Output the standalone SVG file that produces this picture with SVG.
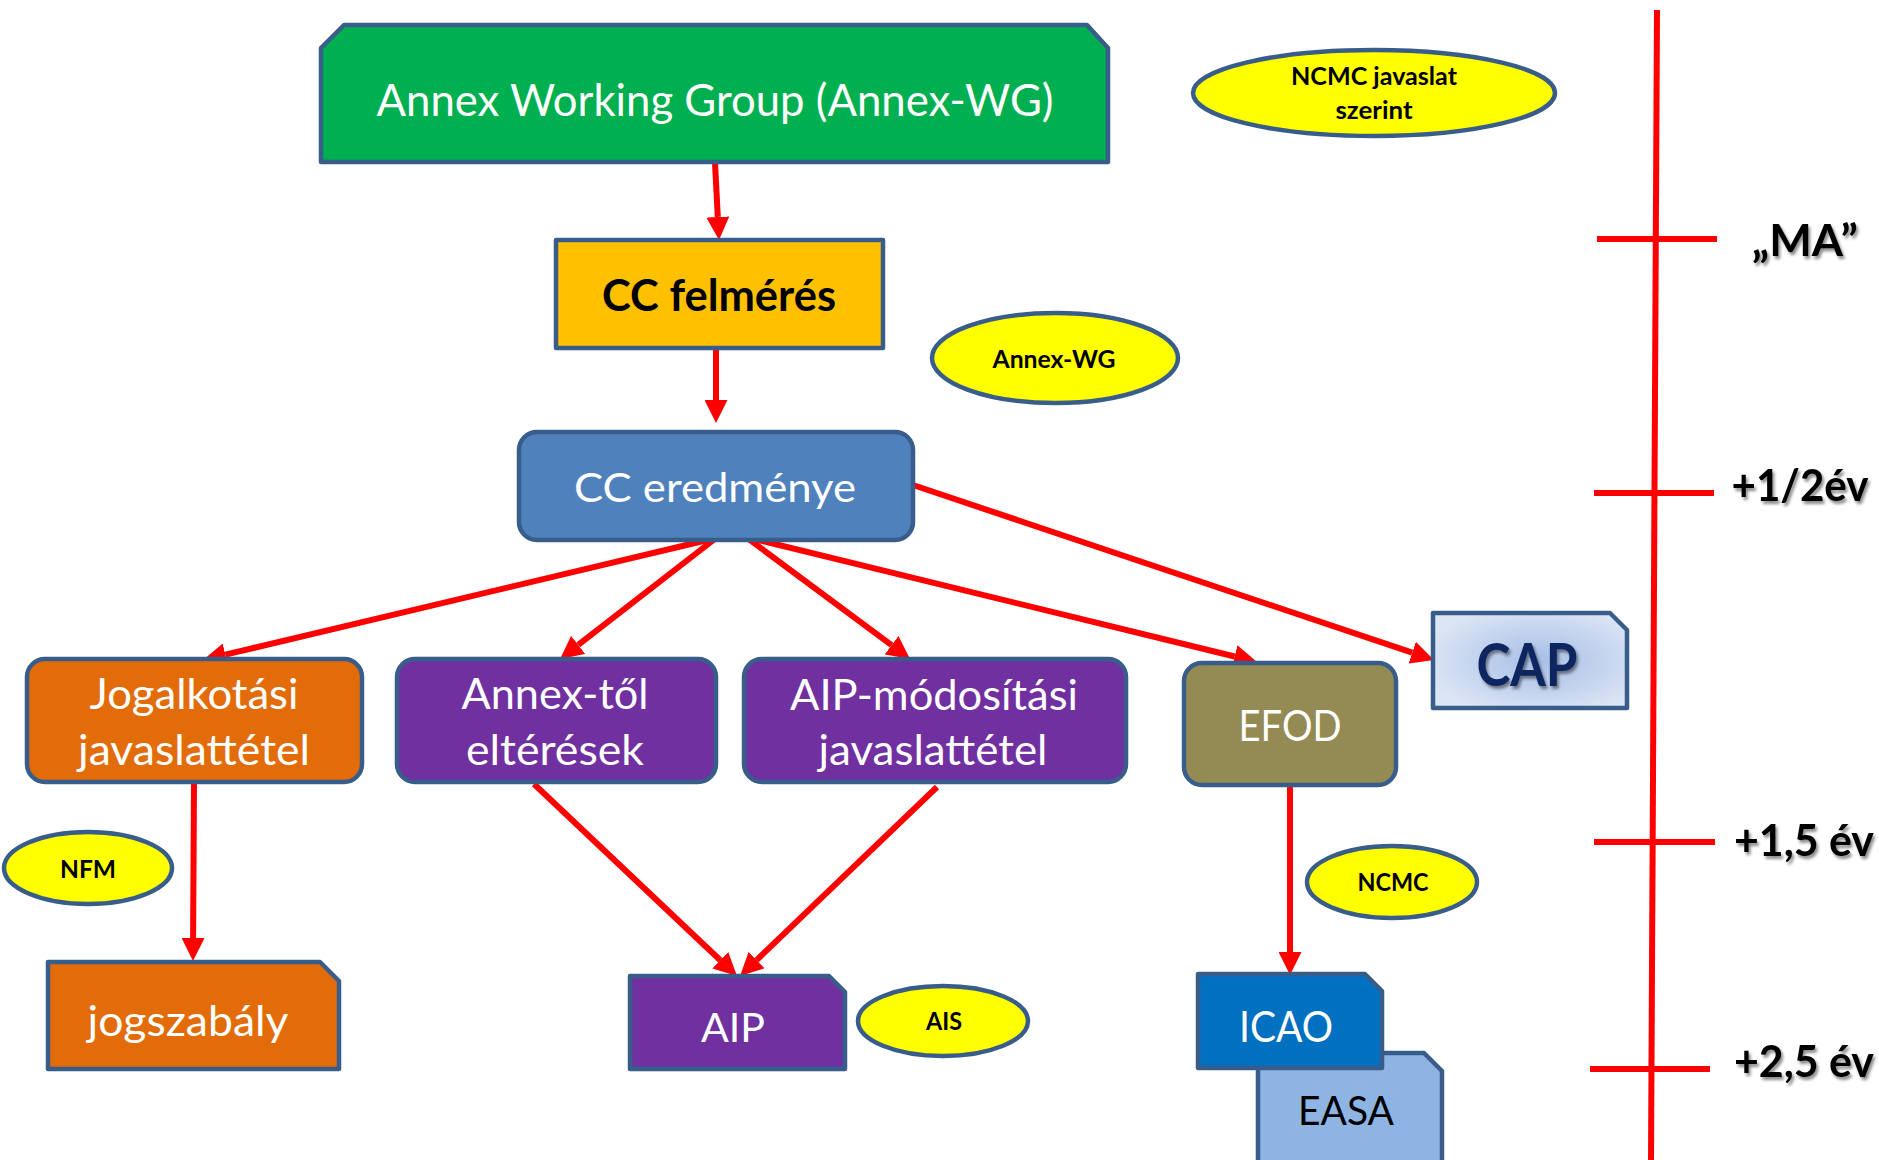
<svg xmlns="http://www.w3.org/2000/svg" width="1879" height="1160" viewBox="0 0 1879 1160">
  <defs>
    <style>
      .box { stroke: #385D8A; stroke-width: 4.5; stroke-linejoin: round; }
      .oval { fill: #FFFF00; stroke: #385D8A; stroke-width: 4.5; }
      .lbl { font-family: Lato, "Open Sans", "Liberation Sans", sans-serif; text-anchor: middle; fill: #FFFFFF; }
      .dark { fill: #000000; }
      .bold { font-weight: bold; }
      .small { font-family: Lato, "Open Sans", "Liberation Sans", sans-serif; font-weight: bold; font-size: 24px; text-anchor: middle; fill: #000000; }
      .time { font-family: Lato, "Open Sans", "Liberation Sans", sans-serif; font-weight: bold; font-size: 43px; fill: #000000; text-anchor: middle; }
      .flow { fill: none; stroke: #FF0000; stroke-width: 6; marker-end: url(#head); }
      .axis { fill: none; stroke: #FF0000; stroke-width: 6; }
    </style>
    <marker id="head" viewBox="0 0 23 23" refX="0" refY="11.5" markerWidth="23" markerHeight="23" markerUnits="userSpaceOnUse" orient="auto">
      <path d="M0,0 L23,11.5 L0,23 z" fill="#FF0000"/>
    </marker>
    <radialGradient id="capFill" cx="0.55" cy="0.5" r="0.6">
      <stop offset="0" stop-color="#A7BFE7"/>
      <stop offset="1" stop-color="#DCE5F4"/>
    </radialGradient>
    <filter id="shade" x="-10%" y="-20%" width="130%" height="150%">
      <feDropShadow dx="2" dy="3" stdDeviation="1.6" flood-color="#000000" flood-opacity="0.45"/>
    </filter>
  </defs>

  <!-- time axis -->
  <g id="timeline">
    <line class="axis" x1="1657" y1="10" x2="1651" y2="1160"/>
    <line class="axis" stroke-width="6.5" x1="1597" y1="239" x2="1717" y2="239"/>
    <line class="axis" stroke-width="6.5" x1="1594" y1="493" x2="1714" y2="493"/>
    <line class="axis" stroke-width="6.5" x1="1594" y1="842" x2="1715" y2="842"/>
    <line class="axis" stroke-width="6.5" x1="1590" y1="1069" x2="1710" y2="1069"/>
    <g filter="url(#shade)">
      <text class="time" x="1805" y="256" textLength="106" lengthAdjust="spacingAndGlyphs">„MA”</text>
      <text class="time" x="1800" y="501" textLength="137" lengthAdjust="spacingAndGlyphs">+1/2év</text>
      <text class="time" x="1804" y="856" textLength="140" lengthAdjust="spacingAndGlyphs">+1,5 év</text>
      <text class="time" x="1804" y="1077" textLength="140" lengthAdjust="spacingAndGlyphs">+2,5 év</text>
    </g>
  </g>

  <!-- connectors -->
  <g id="connectors">
    <path class="flow" d="M715,163 L717.8,217"/>
    <path class="flow" d="M716,348 L716,400"/>
    <path class="flow" d="M716,538 L225.4,654.7"/>
    <path class="flow" d="M716,538 L578.2,644.9"/>
    <path class="flow" d="M746,537 L891.6,645.2"/>
    <path class="flow" d="M746,537 L1234.7,656.5"/>
    <path class="flow" d="M913,485 L1412.2,652.7"/>
    <path class="flow" d="M194,784 L193.1,938"/>
    <path class="flow" d="M534,784 L720.3,960.2"/>
    <path class="flow" d="M937,787 L756.6,960.1"/>
    <path class="flow" d="M1290,785 L1290,952"/>
  </g>

  <g id="annex-wg">
    <path class="box" fill="#00B050" d="M321,48 L344,25 L1087,25 L1108,48 L1108,162 L321,162 Z"/>
    <text class="lbl" x="715" y="116" font-size="44" textLength="677" lengthAdjust="spacingAndGlyphs">Annex Working Group (Annex-WG)</text>
  </g>

  <g id="ncmc-javaslat">
    <ellipse class="oval" cx="1374" cy="93" rx="181" ry="43"/>
    <text class="small" x="1374" y="85" textLength="166" lengthAdjust="spacingAndGlyphs">NCMC javaslat</text>
    <text class="small" x="1374" y="119" textLength="77" lengthAdjust="spacingAndGlyphs">szerint</text>
  </g>

  <g id="cc-felmeres">
    <rect class="box" fill="#FFC000" x="556" y="240" width="327" height="108"/>
    <text class="lbl dark bold" x="719" y="311" font-size="44" textLength="234" lengthAdjust="spacingAndGlyphs">CC felmérés</text>
  </g>

  <g id="annex-wg-tag">
    <ellipse class="oval" cx="1055" cy="358" rx="123" ry="45"/>
    <text class="small" x="1054" y="368" textLength="123" lengthAdjust="spacingAndGlyphs">Annex-WG</text>
  </g>

  <g id="cc-eredmenye">
    <rect class="box" fill="#4F81BD" x="519" y="432" width="394" height="108" rx="18"/>
    <text class="lbl" x="715" y="502" font-size="41" textLength="282" lengthAdjust="spacingAndGlyphs">CC eredménye</text>
  </g>

  <g id="jogalkotasi">
    <rect class="box" fill="#E36C0A" x="27" y="659" width="335" height="123" rx="18"/>
    <text class="lbl" x="194" y="709" font-size="42" textLength="209" lengthAdjust="spacingAndGlyphs">Jogalkotási</text>
    <text class="lbl" x="194" y="765" font-size="42" textLength="232" lengthAdjust="spacingAndGlyphs">javaslattétel</text>
  </g>

  <g id="annex-eltheresek">
    <rect class="box" fill="#7030A0" x="397" y="659" width="319" height="123" rx="18"/>
    <text class="lbl" x="555" y="709" font-size="42" textLength="187" lengthAdjust="spacingAndGlyphs">Annex-től</text>
    <text class="lbl" x="555" y="765" font-size="42" textLength="178" lengthAdjust="spacingAndGlyphs">eltérések</text>
  </g>

  <g id="aip-modositasi">
    <rect class="box" fill="#7030A0" x="744" y="659" width="382" height="123" rx="18"/>
    <text class="lbl" x="934" y="710" font-size="42" textLength="288" lengthAdjust="spacingAndGlyphs">AIP-módosítási</text>
    <text class="lbl" x="933" y="765" font-size="42" textLength="229" lengthAdjust="spacingAndGlyphs">javaslattétel</text>
  </g>

  <g id="efod">
    <rect class="box" fill="#948A54" x="1184" y="663" width="212" height="122" rx="18"/>
    <text class="lbl" x="1290" y="741" font-size="42" textLength="103" lengthAdjust="spacingAndGlyphs">EFOD</text>
  </g>

  <g id="cap">
    <path class="box" fill="url(#capFill)" d="M1433,613 L1610,613 L1627,630 L1627,708 L1433,708 Z"/>
    <text class="lbl bold" style="fill:#0B2560" filter="url(#shade)" x="1527" y="686" font-size="60" textLength="101" lengthAdjust="spacingAndGlyphs">CAP</text>
  </g>

  <g id="nfm">
    <ellipse class="oval" cx="88" cy="868" rx="84" ry="36"/>
    <text class="small" x="88" y="878" textLength="56" lengthAdjust="spacingAndGlyphs">NFM</text>
  </g>

  <g id="ncmc">
    <ellipse class="oval" cx="1392" cy="882" rx="85" ry="36"/>
    <text class="small" x="1393" y="891" textLength="71" lengthAdjust="spacingAndGlyphs">NCMC</text>
  </g>

  <g id="jogszabaly">
    <path class="box" fill="#E36C0A" d="M48,962 L320,962 L339,981 L339,1069 L48,1069 Z"/>
    <text class="lbl" x="188" y="1036" font-size="42" textLength="201" lengthAdjust="spacingAndGlyphs">jogszabály</text>
  </g>

  <g id="aip">
    <path class="box" fill="#7030A0" d="M630,976 L829,976 L845,992 L845,1069 L630,1069 Z"/>
    <text class="lbl" x="733" y="1042" font-size="41" textLength="64" lengthAdjust="spacingAndGlyphs">AIP</text>
  </g>

  <g id="ais">
    <ellipse class="oval" cx="943" cy="1021" rx="85" ry="35"/>
    <text class="small" x="944" y="1030" textLength="36" lengthAdjust="spacingAndGlyphs">AIS</text>
  </g>

  <g id="easa">
    <path class="box" fill="#8EB4E3" d="M1258,1053 L1424,1053 L1442,1071 L1442,1175 L1258,1175 Z"/>
    <text class="lbl dark" x="1346" y="1125" font-size="41" textLength="96" lengthAdjust="spacingAndGlyphs">EASA</text>
  </g>

  <g id="icao">
    <path class="box" fill="#0070C0" d="M1198,974 L1365,974 L1382,991 L1382,1068 L1198,1068 Z"/>
    <text class="lbl" x="1286" y="1042" font-size="43" textLength="94" lengthAdjust="spacingAndGlyphs">ICAO</text>
  </g>
</svg>
